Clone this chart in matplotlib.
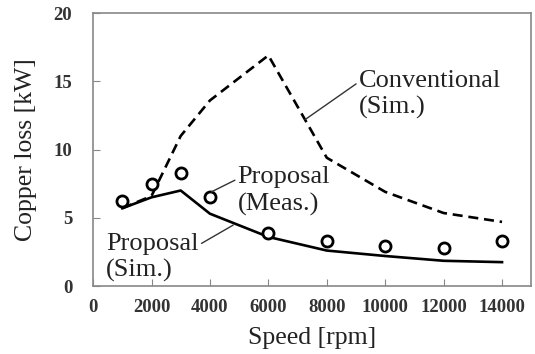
import numpy as np
import matplotlib.pyplot as plt

speed = [1000, 2000, 3000, 4000, 6000, 8000, 10000, 12000, 14000]
conv_sim = [5.7, 6.6, 11.0, 13.6, 16.9, 9.4, 6.9, 5.35, 4.7]
prop_sim = [5.7, 6.5, 7.0, 5.3, 3.6, 2.6, 2.2, 1.85, 1.75]
prop_meas = [6.2, 7.5, 8.3, 6.5, 3.9, 3.3, 2.9, 2.8, 3.3]

plt.rcParams['font.family'] = ['Liberation Serif', 'DejaVu Serif']

fig = plt.figure(figsize=(5.35, 3.54), dpi=100)
ax = fig.add_axes([0.174, 0.192, 0.819, 0.771])

ax.plot(speed, conv_sim, color='black', lw=1.9, ls=(0, (3.8, 2.2)))
ax.plot(speed, prop_sim, color='black', lw=1.9)
ax.plot(speed, prop_meas, ls='none', marker='o', ms=8, mfc='white',
        mec='black', mew=2.0)

ax.set_xlim(0, 15000)
ax.set_ylim(0, 20)
ax.set_xticks(np.arange(0, 14001, 2000))
ax.set_yticks(np.arange(0, 21, 5))
for s in ax.spines.values():
    s.set_color('#888888')
    s.set_linewidth(1.2)
ax.tick_params(direction='in', length=5, color='#888888', labelsize=13.5)
ax.tick_params(axis='y', pad=15)
ax.tick_params(axis='x', pad=9)
for lab in ax.get_xticklabels() + ax.get_yticklabels():
    lab.set_fontweight('bold')
    lab.set_color('#333333')

ax.set_xlabel('Speed [rpm]', fontsize=18.5, color='#222222', labelpad=8)
ax.set_ylabel('Copper loss [kW]', fontsize=18.5, color='#222222', labelpad=12)

# annotations with leader lines
txt = dict(fontsize=19, color='#222222', va='center', ha='left', linespacing=1.25)
line = dict(arrowstyle='-', color='#333333', lw=1.0, shrinkA=0, shrinkB=0)
ax.annotate('Conventional\n(Sim.)', xy=(7260, 12.2), xytext=(9100, 14.05),
            arrowprops=dict(line, relpos=(0, 0.75)), **txt)
ax.annotate('Proposal\n(Meas.)', xy=(4050, 6.9), xytext=(4950, 6.95),
            arrowprops=dict(line, relpos=(0, 0.75)), **txt)
ax.annotate('Proposal\n(Sim.)', xy=(4800, 4.47), xytext=(450, 2.1),
            arrowprops=dict(line, relpos=(1.0, 0.75)), **txt)

fig.savefig('out.png', dpi=100)
